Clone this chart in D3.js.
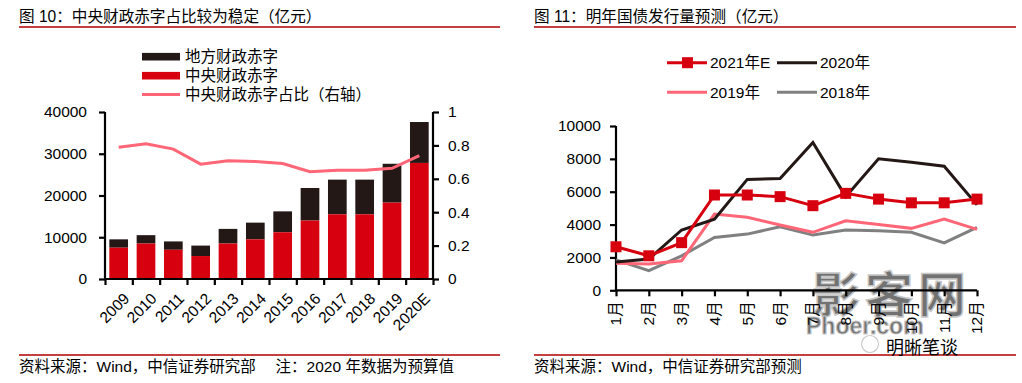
<!DOCTYPE html>
<html><head><meta charset="utf-8">
<script src="https://cdn.jsdelivr.net/npm/d3@7/dist/d3.min.js"></script>
<style>
html,body{margin:0;padding:0;background:#fff;}
svg{display:block;}
text{font-family:"Liberation Sans",Arial,"Noto Sans CJK SC",sans-serif;fill:#000;}
</style></head>
<body>
<svg id="c" width="1022" height="383"></svg>
<script>
// ---------- Data: Figure 10 ----------
const years = ["2009","2010","2011","2012","2013","2014","2015","2016","2017","2018","2019","2020E"];
const centralDeficit = [7500,8500,7000,5500,8500,9500,11200,14000,15500,15500,18300,27800];
const localDeficit   = [2000,2000,2000,2500,3500,4000,5000,7800,8300,8300,9300,9800];
const leftTicks  = [0,10000,20000,30000,40000];
const rightTicks = [0,0.2,0.4,0.6,0.8,1];

// ---------- Data: Figure 11 ----------
const months = ["1月","2月","3月","4月","5月","6月","7月","8月","9月","10月","11月","12月"];
const issue2021E = [2650,2100,2900,5800,5800,5700,5150,5900,5550,5325,5325,5550];
const issue2020  = [1720,1900,3670,4330,6750,6800,9000,5700,8000,7800,7550,5200];
const issue2019  = [1650,1600,1800,4640,4440,3970,3530,4230,4010,3770,4330,3710];
const issue2018  = [1850,1200,2100,3220,3420,3870,3360,3670,3620,3530,2890,3830];
const monthTicks = [0,2000,4000,6000,8000,10000];

const RED="#D7000F", DARK="#231815", PINK="#FF6677", GRAY="#808080", RULE="#B00000";
const svg = d3.select("#c");

// ---------- Titles / footers ----------
function header(x0,x1,title,foot){
  svg.append("text").attr("x",x0).attr("y",22).attr("font-size",15.6).text(title);
  svg.append("line").attr("x1",x0).attr("x2",x1).attr("y1",27).attr("y2",27).attr("stroke",RULE).attr("stroke-width",1.3);
  svg.append("line").attr("x1",x0).attr("x2",x1).attr("y1",355).attr("y2",355).attr("stroke",RULE).attr("stroke-width",1.3);
  svg.append("text").attr("x",x0).attr("y",372).attr("font-size",15.5).text(foot);
}
header(19,500,"图 10：中央财政赤字占比较为稳定（亿元）","资料来源：Wind，中信证券研究部　 注：2020 年数据为预算值");
header(534,1016,"图 11：明年国债发行量预测（亿元）","资料来源：Wind，中信证券研究部预测");

// ---------- Figure 10 ----------
const L = {x0:105,x1:433,y0:279,y1:112};
const pad=0.316;
const xL = d3.scaleBand().domain(years).range([L.x0,L.x1]).paddingInner(pad).paddingOuter(pad/2);
const yL = d3.scaleLinear().domain([0,40000]).range([L.y0,L.y1]);
const yR = d3.scaleLinear().domain([0,1]).range([L.y0,L.y1]);
const g1 = svg.append("g");

years.forEach((y,i)=>{
  const c=centralDeficit[i], l=localDeficit[i];
  g1.append("rect").attr("x",xL(y)).attr("width",xL.bandwidth())
    .attr("y",yL(c+l)).attr("height",yL(c)-yL(c+l)).attr("fill",DARK);
  g1.append("rect").attr("x",xL(y)).attr("width",xL.bandwidth())
    .attr("y",yL(c)).attr("height",yL(0)-yL(c)).attr("fill",RED);
});
const ratio = years.map((y,i)=>centralDeficit[i]/(centralDeficit[i]+localDeficit[i]));
g1.append("path").datum(ratio)
  .attr("d",d3.line().x((d,i)=>xL(years[i])+xL.bandwidth()/2).y(d=>yR(d)))
  .attr("fill","none").attr("stroke",PINK).attr("stroke-width",3);

const axL = g1.append("g").attr("transform",`translate(${L.x0},0)`)
  .call(d3.axisLeft(yL).tickValues(leftTicks).tickSize(6).tickPadding(12).tickFormat(d3.format("d")));
const axR = g1.append("g").attr("transform",`translate(${L.x1},0)`)
  .call(d3.axisRight(yR).tickValues(rightTicks).tickSize(6).tickPadding(9).tickFormat(d=>d3.format("~g")(d)));
const bounds = years.map(y=>xL(y)-(xL.step()-xL.bandwidth())/2).concat([L.x1]);
const axB = g1.append("g").attr("transform",`translate(0,${L.y0})`)
  .call(d3.axisBottom(d3.scaleLinear().domain([L.x0,L.x1]).range([L.x0,L.x1])).tickValues(bounds).tickSize(6).tickFormat(""));
[axL,axR,axB].forEach(a=>{
  a.select(".domain").attr("stroke","#000").attr("stroke-width",2.2);
  a.selectAll(".tick line").attr("stroke","#000").attr("stroke-width",2.2);
  a.selectAll("text").attr("font-size",15.5).attr("font-family","Liberation Sans, Arial, sans-serif");
});
axL.select(".domain").attr("d",`M0,${L.y1}V${L.y0}`);
axR.select(".domain").attr("d",`M0,${L.y1}V${L.y0}`);
axB.select(".domain").attr("d",`M${L.x0},0H${L.x1}`);
years.forEach(y=>{
  const cx = xL(y)+xL.bandwidth()/2+4;
  g1.append("text").attr("transform",`translate(${cx},${L.y0+13}) rotate(-45)`)
    .attr("text-anchor","end").attr("dy","0.7em").attr("font-size",15.5).text(y);
});
const leg1=[["地方财政赤字","bar",DARK],["中央财政赤字","bar",RED],["中央财政赤字占比（右轴）","line",PINK]];
leg1.forEach((d,i)=>{
  const cy=[56.7,75.7,94.5][i];
  if(d[1]==="bar") g1.append("rect").attr("x",142).attr("y",cy-3.8).attr("width",38).attr("height",7.6).attr("fill",d[2]);
  else g1.append("line").attr("x1",142).attr("x2",180).attr("y1",cy).attr("y2",cy).attr("stroke",d[2]).attr("stroke-width",3);
  g1.append("text").attr("x",185).attr("y",cy+5.5).attr("font-size",15.5).text(d[0]);
});

// ---------- Figure 11 ----------
const R = {x0:616,x1:977,y0:290.3,y1:126};
const xR = d3.scalePoint().domain(months).range([R.x0,R.x1]);
const yM = d3.scaleLinear().domain([0,10000]).range([R.y0,R.y1]);
const g2 = svg.append("g");

// ---------- watermark (behind the chart marks) ----------
const wm = g2.append("g").attr("opacity",0.55);
wm.append("text").attr("x",812).attr("y",312).attr("font-size",48).attr("font-weight","bold")
  .attr("font-family","Noto Sans CJK SC").attr("fill","#e6e6e6").attr("stroke","#9a9a9a").attr("stroke-width",1.5)
  .attr("letter-spacing",5).text("影客网");
wm.append("text").attr("x",806).attr("y",334).attr("font-size",23).attr("font-weight","bold")
  .attr("fill","#dcdcdc").attr("stroke","#9a9a9a").attr("stroke-width",1).text("Phoer.com");
svg.append("text").attr("x",886).attr("y",354).attr("font-size",18).attr("fill","#c8c8c8")
  .attr("font-family","Noto Sans CJK SC").text("明晰笔谈");
svg.append("circle").attr("cx",870).attr("cy",344).attr("r",8.5).attr("fill","none").attr("stroke","#c8c8c8").attr("stroke-width",1.2);

const axY = g2.append("g").attr("transform",`translate(${R.x0},0)`)
  .call(d3.axisLeft(yM).tickValues(monthTicks).tickSize(6).tickPadding(9).tickFormat(d3.format("d")));
const axX = g2.append("g").attr("transform",`translate(0,${R.y0})`)
  .call(d3.axisBottom(xR).tickSize(6).tickFormat(""));
[axY,axX].forEach(a=>{
  a.select(".domain").attr("stroke","#000").attr("stroke-width",2.2);
  a.selectAll(".tick line").attr("stroke","#000").attr("stroke-width",2.2);
  a.selectAll("text").attr("font-size",15.5).attr("font-family","Liberation Sans, Arial, sans-serif");
});
axY.select(".domain").attr("d",`M0,${R.y1}V${R.y0}`);
axX.select(".domain").attr("d",`M${R.x0},0H${R.x1}`);
months.forEach(m=>{
  g2.append("text").attr("transform",`translate(${xR(m)},${R.y0+11}) rotate(-90)`)
    .attr("text-anchor","end").attr("dy","0.35em").attr("font-size",15.5).text(m);
});
const lineM = d3.line().x((d,i)=>xR(months[i])).y(d=>yM(d));
const series=[[issue2018,GRAY],[issue2019,PINK],[issue2020,DARK],[issue2021E,RED]];
series.forEach(s=>{
  g2.append("path").datum(s[0]).attr("d",lineM).attr("fill","none")
    .attr("stroke",s[1]).attr("stroke-width",3).attr("stroke-linejoin","miter");
});
issue2021E.forEach((d,i)=>{
  g2.append("rect").attr("x",xR(months[i])-5.5).attr("y",yM(d)-5.5).attr("width",11).attr("height",11).attr("fill",RED);
});
const leg2=[["2021年E",RED,667,62.7,true],["2020年",DARK,777,62.7,false],["2019年",PINK,667,92.3,false],["2018年",GRAY,777,92.3,false]];
leg2.forEach(d=>{
  g2.append("line").attr("x1",d[2]).attr("x2",d[2]+40).attr("y1",d[3]).attr("y2",d[3]).attr("stroke",d[1]).attr("stroke-width",3);
  if(d[4]) g2.append("rect").attr("x",d[2]+15).attr("y",d[3]-5.5).attr("width",11).attr("height",11).attr("fill",d[1]);
  g2.append("text").attr("x",d[2]+43).attr("y",d[3]+5.5).attr("font-size",15.5).text(d[0]);
});
</script>
</body></html>
